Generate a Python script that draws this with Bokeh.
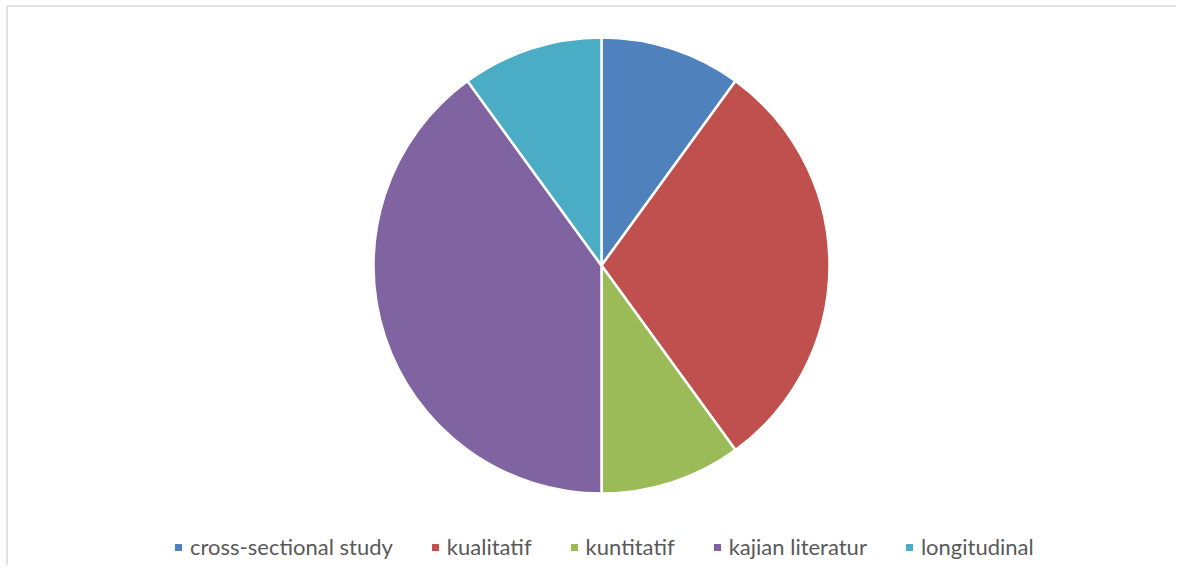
import math
from bokeh.plotting import figure
from bokeh.models import Range1d, Legend, LegendItem
from bokeh.embed import file_html
from bokeh.resources import INLINE

categories = ["cross-sectional study", "kualitatif", "kuntitatif", "kajian literatur", "longitudinal"]
shares = [10, 30, 10, 40, 10]
colors = ["#4f81bd", "#c0504d", "#9bbb59", "#8064a2", "#4bacc6"]

W, H = 1176, 565
p = figure(width=W, height=H, output_backend="svg", toolbar_location=None,
           x_range=Range1d(0, W), y_range=Range1d(-H, 0),
           min_border=0)
p.axis.visible = False
p.grid.visible = False
p.outline_line_color = None
p.background_fill_color = "white"

total = sum(shares)
starts, ends = [], []
acc = 0.0
for v in shares:
    a0 = math.pi / 2 - 2 * math.pi * acc / total
    acc += v
    a1 = math.pi / 2 - 2 * math.pi * acc / total
    starts.append(a1)
    ends.append(a0)

renderers = []
for i in range(len(categories)):
    r = p.wedge(x=601, y=-265, radius=228, start_angle=starts[i], end_angle=ends[i],
                fill_color=colors[i], line_color="white", line_width=2.5)
    renderers.append(r)

# chart area border (left and top edges)
p.segment(x0=[6.5, 6.5], y0=[-700, -5.5], x1=[6.5, 1300], y1=[-5.5, -5.5],
          line_color="#d9d9d9", line_width=1.5)

legend = Legend(items=[LegendItem(label=categories[i], renderers=[renderers[i]]) for i in range(len(categories))],
                orientation="horizontal", location=(172, 5),
                glyph_width=12, glyph_height=12, label_standoff=6, spacing=36,
                label_height=20,
                label_text_font="Lato", label_text_font_size="22px",
                label_text_color="#595959", border_line_color=None,
                background_fill_alpha=0, padding=0, margin=0)
p.add_layout(legend, "center")

open("out.html", "w").write(file_html(p, INLINE))
